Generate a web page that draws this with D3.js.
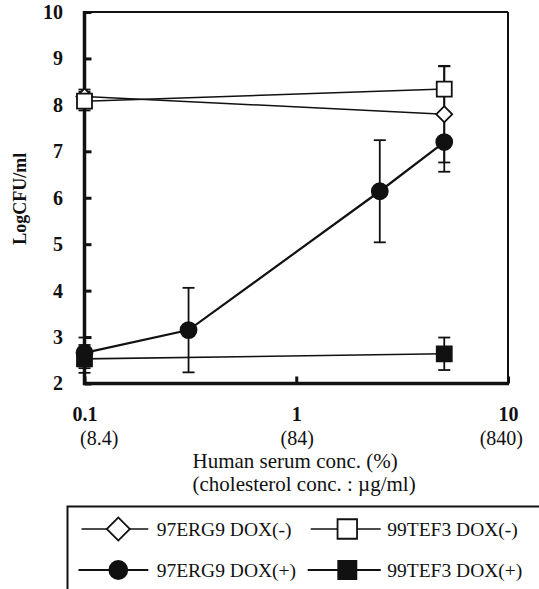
<!DOCTYPE html>
<meta charset="utf-8">
<script src="https://d3js.org/d3.v7.min.js"></script>
<style>
  body { margin: 0; background: #fff; }
  svg text { font-family: "Liberation Serif", "DejaVu Serif", serif !important; fill: #111; }
  .tick text { font-size: 20px; font-weight: bold; }
  .tick line { stroke: #111; stroke-width: 3px; }
  .series { fill: none; stroke: #111; }
  .err { stroke: #111; stroke-width: 1.8px; fill: none; }
</style>
<div id="plot"></div>
<script>
// values
var xTicks = [0.1, 1, 10];
var xTickSub = ["(8.4)", "(84)", "(840)"];
var yTicks = [2, 3, 4, 5, 6, 7, 8, 9, 10];

var erg9MinusX = [0.1, 5.0];
var erg9MinusY = [8.18, 7.8];
var erg9MinusErr = [0.15, 1.04];

var tef3MinusX = [0.1, 5.0];
var tef3MinusY = [8.08, 8.34];
var tef3MinusErr = [0.2, 0.49];

var erg9PlusX = [0.1, 0.31, 2.48, 5.0];
var erg9PlusY = [2.66, 3.15, 6.14, 7.2];
var erg9PlusErr = [0.33, 0.91, 1.1, 0.64];

var tef3PlusX = [0.1, 5.0];
var tef3PlusY = [2.53, 2.64];
var tef3PlusErr = [0.3, 0.35];

var seriesNames = ["97ERG9 DOX(-)", "99TEF3 DOX(-)", "97ERG9 DOX(+)", "99TEF3 DOX(+)"];

var serif = '"Liberation Serif", "DejaVu Serif", serif';

var margin = {top: 12, left: 84.5},
    width = 423.5,
    height = 371.5;

var x = d3.scaleLog().domain([0.1, 10]).range([0, width]);
var y = d3.scaleLinear().domain([2, 10]).range([height, 0]);

var svg = d3.select("#plot").append("svg")
    .attr("width", 539)
    .attr("height", 589)
    .attr("font-family", serif);

var g = svg.append("g")
    .attr("transform", "translate(" + margin.left + "," + margin.top + ")");

// frame
g.append("line").attr("x1", 0).attr("x2", width).attr("y1", 0).attr("y2", 0)
  .attr("stroke", "#111").attr("stroke-width", 2);
g.append("line").attr("x1", width).attr("x2", width).attr("y1", 0).attr("y2", height)
  .attr("stroke", "#111").attr("stroke-width", 2);

var yAxis = g.append("g")
  .call(d3.axisLeft(y).tickValues(yTicks).tickSize(-7).tickPadding(21.5).tickFormat(d3.format("d")));
yAxis.select(".domain").remove();
yAxis.attr("font-family", serif);

var xAxis = g.append("g")
  .attr("transform", "translate(0," + height + ")")
  .call(d3.axisBottom(x).tickValues(xTicks).tickSize(-7).tickPadding(23.5)
    .tickFormat(function(d) { return d < 1 ? "0.1" : d3.format("d")(d); }));
xAxis.select(".domain").remove();
xAxis.attr("font-family", serif);

g.append("line").attr("x1", 0).attr("x2", 0).attr("y1", -1).attr("y2", height + 1.5)
  .attr("stroke", "#111").attr("stroke-width", 3.5);
g.append("line").attr("x1", -1.5).attr("x2", width + 1).attr("y1", height).attr("y2", height)
  .attr("stroke", "#111").attr("stroke-width", 3.5);

// second row of x labels (cholesterol)
g.selectAll(".subtick")
  .data(xTicks)
  .enter().append("text")
    .attr("class", "subtick")
    .attr("x", function(d, i) { return x(d) + [-4.5, 1, 15][i]; })
    .attr("y", height + 61)
    .style("font-size", "20px")
    .style("text-anchor", function(d, i) { return ["start", "middle", "end"][i]; })
    .text(function(d, i) { return xTickSub[i]; });

// axis titles
svg.append("text")
  .attr("x", 192.5).attr("y", 467.5)
  .style("font-size", "21px")
  .text("Human serum conc. (%)");
svg.append("text")
  .attr("x", 192.5).attr("y", 491)
  .style("font-size", "21px")
  .text("(cholesterol conc. : \u00b5g/ml)");

svg.append("text")
  .attr("transform", "translate(26," + (margin.top + height / 2 + 1) + ") rotate(-90)")
  .style("font-size", "18px")
  .style("font-weight", "bold")
  .style("text-anchor", "middle")
  .text("LogCFU/ml");

function zip(xs, ys, es) {
  return xs.map(function(v, i) { return {x: v, y: ys[i], e: es[i]}; });
}

var series = [
  {name: seriesNames[3], pts: zip(tef3PlusX, tef3PlusY, tef3PlusErr), sym: d3.symbolSquare, size: 225, fill: "#111", lw: 1.6, rot: 0},
  {name: seriesNames[2], pts: zip(erg9PlusX, erg9PlusY, erg9PlusErr), sym: d3.symbolCircle, size: 201, fill: "#111", lw: 2.2, rot: 0},
  {name: seriesNames[0], pts: zip(erg9MinusX, erg9MinusY, erg9MinusErr), sym: d3.symbolSquare, size: 128, fill: "#fff", lw: 1.5, rot: 45},
  {name: seriesNames[1], pts: zip(tef3MinusX, tef3MinusY, tef3MinusErr), sym: d3.symbolSquare, size: 225, fill: "#fff", lw: 1.5, rot: 0}
];

var line = d3.line()
  .x(function(d) { return x(d.x); })
  .y(function(d) { return y(d.y); });

series.forEach(function(s) {
  g.append("path")
    .datum(s.pts)
    .attr("class", "series")
    .attr("stroke-width", s.lw)
    .attr("d", line);
});

series.forEach(function(s) {
  var eb = g.append("g").selectAll("g")
    .data(s.pts)
    .enter().append("g")
      .attr("class", "err");
  eb.append("line")
    .attr("x1", function(d) { return x(d.x); })
    .attr("x2", function(d) { return x(d.x); })
    .attr("y1", function(d) { return y(d.y + d.e); })
    .attr("y2", function(d) { return y(d.y - d.e); });
  [1, -1].forEach(function(sg) {
    eb.append("line")
      .attr("x1", function(d) { return x(d.x) - 6; })
      .attr("x2", function(d) { return x(d.x) + 6; })
      .attr("y1", function(d) { return y(d.y + sg * d.e); })
      .attr("y2", function(d) { return y(d.y + sg * d.e); });
  });
});

series.forEach(function(s) {
  g.selectAll(null)
    .data(s.pts)
    .enter().append("path")
      .attr("d", d3.symbol().type(s.sym).size(s.size))
      .attr("transform", function(d) { return "translate(" + x(d.x) + "," + y(d.y) + ") rotate(" + s.rot + ")"; })
      .attr("fill", s.fill)
      .attr("stroke", "#111")
      .attr("stroke-width", 1.8);
});

// legend
svg.append("rect")
  .attr("x", 67.5).attr("y", 506.5)
  .attr("width", 500).attr("height", 120)
  .attr("fill", "none").attr("stroke", "#111").attr("stroke-width", 2);

var legendItems = [
  {name: seriesNames[0], sym: d3.symbolSquare, size: 265, fill: "#fff", rot: 45, lw: 1.5, col: 0, row: 0},
  {name: seriesNames[1], sym: d3.symbolSquare, size: 380, fill: "#fff", rot: 0, lw: 1.5, col: 1, row: 0},
  {name: seriesNames[2], sym: d3.symbolCircle, size: 254, fill: "#111", rot: 0, lw: 2.2, col: 0, row: 1},
  {name: seriesNames[3], sym: d3.symbolSquare, size: 330, fill: "#111", rot: 0, lw: 2, col: 1, row: 1}
];
var colX = [[81.5, 118.3, 148.3, 156.7], [310.7, 347.3, 380.7, 387.3]];
var rowY = [529, 570];

var legend = svg.selectAll(".legend")
  .data(legendItems)
  .enter().append("g")
    .attr("class", "legend");

legend.append("line")
  .attr("x1", function(d) { return colX[d.col][0] - (d.row ? 3 : 0); })
  .attr("x2", function(d) { return colX[d.col][2]; })
  .attr("y1", function(d) { return rowY[d.row]; })
  .attr("y2", function(d) { return rowY[d.row]; })
  .attr("stroke", "#111")
  .attr("stroke-width", function(d) { return d.lw; });

legend.append("path")
  .attr("d", function(d) { return d3.symbol().type(d.sym).size(d.size)(); })
  .attr("transform", function(d) { return "translate(" + colX[d.col][1] + "," + rowY[d.row] + ") rotate(" + d.rot + ")"; })
  .attr("fill", function(d) { return d.fill; })
  .attr("stroke", "#111")
  .attr("stroke-width", 1.8);

legend.append("text")
  .attr("x", function(d) { return colX[d.col][3]; })
  .attr("y", function(d) { return rowY[d.row] + 6.5; })
  .style("font-size", "19.5px")
  .text(function(d) { return d.name; });
</script>
